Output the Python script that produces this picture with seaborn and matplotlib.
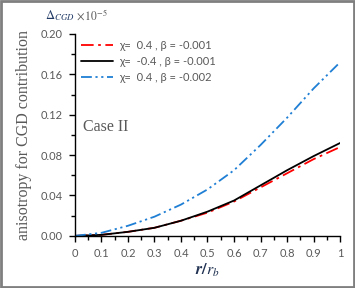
import matplotlib
matplotlib.use("Agg")
import matplotlib.pyplot as plt
import matplotlib.patches as patches
from matplotlib.ticker import MultipleLocator, FuncFormatter
import seaborn as sns
import pandas as pd

# r / r_b values
r = [0.0, 0.1, 0.2, 0.3, 0.4, 0.5, 0.6, 0.7, 0.8, 0.9, 1.0]

# anisotropy values (x 10^-5)
red_vals = [0.0, 0.001, 0.004, 0.008, 0.015, 0.023, 0.034, 0.048, 0.062, 0.076, 0.088]
black_vals = [0.0, 0.001, 0.004, 0.008, 0.015, 0.024, 0.035, 0.050, 0.065, 0.079, 0.092]
blue_vals = [0.0, 0.003, 0.010, 0.019, 0.031, 0.046, 0.065, 0.090, 0.117, 0.146, 0.172]

labels = ["χ=  0.4 , β = -0.001", "χ=  -0.4 , β = -0.001", "χ=  0.4 , β = -0.002"]

df = pd.DataFrame({
    "r": r * 3,
    "val": red_vals + black_vals + blue_vals,
    "case": [labels[0]] * len(r) + [labels[1]] * len(r) + [labels[2]] * len(r),
})

sns.set_style("white")
plt.rcParams['font.family'] = ['Lato', 'DejaVu Sans']
plt.rcParams['mathtext.fontset'] = 'stix'

fig = plt.figure(figsize=(3.55, 2.88), dpi=100)
ax = fig.add_axes([0.211, 0.181, 0.747, 0.701])

palette = {labels[0]: "#ff0000", labels[1]: "#000000", labels[2]: "#1f7fd4"}
sns.lineplot(data=df, x="r", y="val", hue="case", palette=palette, ax=ax,
             linewidth=1.3, legend=False)

dashes = [(7, 2.5, 1.5, 2.5), None, (6, 2, 1.2, 2, 1.2, 2)]
for line, d in zip(ax.get_lines(), dashes):
    if d is not None:
        line.set_dashes(d)

ax.set_xlim(0, 1)
ax.set_ylim(0, 0.2)
ax.xaxis.set_major_locator(MultipleLocator(0.1))
ax.xaxis.set_minor_locator(MultipleLocator(0.05))
ax.yaxis.set_major_locator(MultipleLocator(0.04))
ax.yaxis.set_minor_locator(MultipleLocator(0.02))
ax.xaxis.set_major_formatter(FuncFormatter(lambda v, p: "%g" % round(v, 2)))
ax.yaxis.set_major_formatter(FuncFormatter(lambda v, p: "%.2f" % v))

for s in ["top", "right"]:
    ax.spines[s].set_visible(False)
for s in ["left", "bottom"]:
    ax.spines[s].set_color("black")
    ax.spines[s].set_linewidth(1.0)

ax.tick_params(which="both", direction="out", color="black", width=1.0,
               left=True, bottom=True)
ax.tick_params(which="major", length=4, labelsize=8, labelcolor="#595959", pad=5)
ax.tick_params(which="minor", length=3)

ax.set_xlabel(r"$\boldsymbol{r/r_b}$", fontsize=11.5, color="#1f3050", labelpad=2)
ax.set_ylabel("anisotropy for CGD contribution", family="Liberation Serif",
              fontsize=11.5, color="#595959", labelpad=6)

# legend drawn from the plotted lines
leg = ax.legend(ax.get_lines(), labels, loc="upper left", bbox_to_anchor=(0.0, 1.0),
                frameon=False, fontsize=8, labelcolor="#595959",
                handlelength=2.9, handletextpad=0.5, labelspacing=0.45,
                borderaxespad=0.15)

ax.text(0.03, 0.52, "Case II", transform=ax.transAxes, family="Liberation Serif",
        fontsize=11.5, color="#595959")

fig.text(0.127, 0.945, r"$\Delta_{CGD}$", fontsize=9, color="#1f3864", va="center")
fig.text(0.213, 0.948, r"$\times\,10^{-5}$", fontsize=8.5, color="#595959", va="center")

# frame around the whole picture
fig.patches.append(patches.Rectangle((0.003, 0.003), 0.994, 0.992, transform=fig.transFigure,
                                     fill=False, edgecolor="#7f7f7f", linewidth=2.0))

fig.savefig("out.png", dpi=100)
